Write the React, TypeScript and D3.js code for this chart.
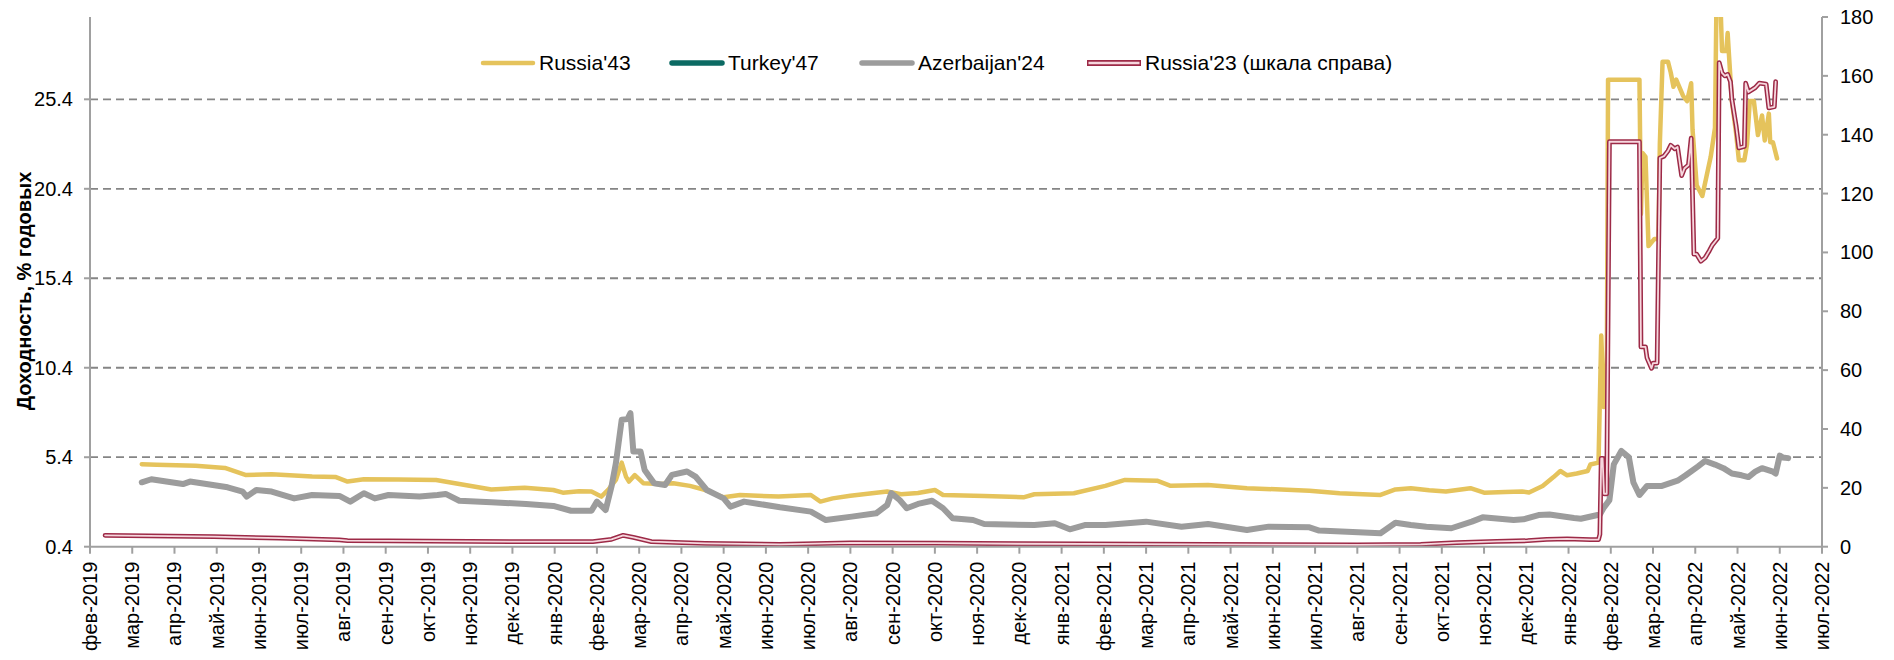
import React from 'react';
import * as d3 from 'd3';

// ---- Data ----
const tickLabels: string[] = [
  'фев-2019','мар-2019','апр-2019','май-2019','июн-2019','июл-2019','авг-2019','сен-2019','окт-2019','ноя-2019','дек-2019',
  'янв-2020','фев-2020','мар-2020','апр-2020','май-2020','июн-2020','июл-2020','авг-2020','сен-2020','окт-2020','ноя-2020','дек-2020',
  'янв-2021','фев-2021','мар-2021','апр-2021','май-2021','июн-2021','июл-2021','авг-2021','сен-2021','окт-2021','ноя-2021','дек-2021',
  'янв-2022','фев-2022','мар-2022','апр-2022','май-2022','июн-2022','июл-2022'
];

const leftTicks: number[] = [0.4, 5.4, 10.4, 15.4, 20.4, 25.4];
const rightTicks: number[] = [0, 20, 40, 60, 80, 100, 120, 140, 160, 180];

const seriesNames: string[] = ["Russia'43", "Turkey'47", "Azerbaijan'24", "Russia'23 (шкала справа)"];

type Pt = [string, number];

const russia43: Pt[] = [
  ['2019-03-08', 5.01], ['2019-03-19', 4.98], ['2019-04-16', 4.92], ['2019-05-07', 4.8], ['2019-05-22', 4.41],
  ['2019-06-10', 4.45], ['2019-07-09', 4.32], ['2019-07-26', 4.3], ['2019-08-04', 4.04], ['2019-08-16', 4.17],
  ['2019-09-10', 4.15], ['2019-10-07', 4.13], ['2019-10-24', 3.9], ['2019-11-16', 3.6], ['2019-12-10', 3.7],
  ['2019-12-31', 3.57], ['2020-01-07', 3.42], ['2020-01-19', 3.5], ['2020-01-28', 3.48], ['2020-02-04', 3.2],
  ['2020-02-09', 3.6], ['2020-02-14', 4.13], ['2020-02-18', 5.1], ['2020-02-21', 4.3], ['2020-02-23', 4.04],
  ['2020-02-27', 4.4], ['2020-03-04', 3.95], ['2020-03-16', 3.9], ['2020-03-26', 3.95], ['2020-04-07', 3.8],
  ['2020-04-18', 3.57], ['2020-05-01', 3.16], ['2020-05-13', 3.29], ['2020-05-26', 3.25], ['2020-06-10', 3.2],
  ['2020-07-03', 3.29], ['2020-07-10', 2.92], ['2020-07-19', 3.1], ['2020-08-01', 3.25], ['2020-08-28', 3.48],
  ['2020-09-07', 3.33], ['2020-09-19', 3.4], ['2020-10-01', 3.57], ['2020-10-07', 3.29], ['2020-11-06', 3.24],
  ['2020-12-04', 3.16], ['2020-12-12', 3.33], ['2021-01-10', 3.39], ['2021-02-02', 3.8], ['2021-02-15', 4.13],
  ['2021-03-09', 4.09], ['2021-03-19', 3.8], ['2021-04-15', 3.85], ['2021-05-13', 3.67], ['2021-06-27', 3.53],
  ['2021-07-19', 3.39], ['2021-08-18', 3.29], ['2021-08-29', 3.6], ['2021-09-09', 3.67], ['2021-09-22', 3.55],
  ['2021-10-04', 3.48], ['2021-10-22', 3.67], ['2021-11-01', 3.42], ['2021-11-16', 3.45], ['2021-11-28', 3.48],
  ['2021-12-03', 3.43], ['2021-12-13', 3.79], ['2021-12-21', 4.29], ['2021-12-26', 4.63], ['2021-12-31', 4.39],
  ['2022-01-07', 4.49], ['2022-01-15', 4.63], ['2022-01-17', 4.99], ['2022-01-23', 5.1], ['2022-01-25', 12.2],
  ['2022-01-27', 8.2], ['2022-01-29', 8.38], ['2022-01-30', 26.5], ['2022-02-20', 26.5], ['2022-02-21', 19.0],
  ['2022-02-22', 22.4], ['2022-02-24', 22.2], ['2022-02-26', 17.2], ['2022-03-02', 17.6], ['2022-03-05', 17.6],
  ['2022-03-06', 22.9], ['2022-03-08', 27.5], ['2022-03-12', 27.5], ['2022-03-14', 26.9], ['2022-03-16', 26.1],
  ['2022-03-18', 26.5], ['2022-03-23', 25.6], ['2022-03-26', 25.3], ['2022-03-29', 26.3], ['2022-03-30', 23.7],
  ['2022-04-02', 20.6], ['2022-04-06', 20.0], ['2022-04-09', 21.1], ['2022-04-12', 22.2], ['2022-04-15', 23.8],
  ['2022-04-16', 30.5], ['2022-04-19', 30.5], ['2022-04-20', 28.1], ['2022-04-23', 28.1], ['2022-04-24', 29.1],
  ['2022-04-25', 27.8], ['2022-04-27', 25.3], ['2022-04-30', 23.5], ['2022-05-02', 22.0], ['2022-05-06', 22.0],
  ['2022-05-08', 22.9], ['2022-05-10', 25.3], ['2022-05-13', 25.3], ['2022-05-16', 23.4], ['2022-05-19', 24.5],
  ['2022-05-21', 23.1], ['2022-05-24', 24.6], ['2022-05-25', 23.0], ['2022-05-27', 23.0], ['2022-05-30', 22.1]
];

const turkey47: Pt[] = [];

const azerbaijan24: Pt[] = [
  ['2019-03-08', 4.0], ['2019-03-15', 4.17], ['2019-04-07', 3.9], ['2019-04-12', 4.04], ['2019-05-09', 3.72],
  ['2019-05-20', 3.48], ['2019-05-23', 3.2], ['2019-05-30', 3.57], ['2019-06-10', 3.48], ['2019-06-26', 3.1],
  ['2019-07-09', 3.29], ['2019-07-29', 3.24], ['2019-08-06', 2.92], ['2019-08-16', 3.39], ['2019-08-24', 3.1],
  ['2019-09-03', 3.29], ['2019-09-25', 3.2], ['2019-10-08', 3.29], ['2019-10-14', 3.35], ['2019-10-24', 2.97],
  ['2019-11-16', 2.88], ['2019-12-11', 2.79], ['2019-12-31', 2.68], ['2020-01-13', 2.41], ['2020-01-28', 2.41],
  ['2020-02-01', 2.92], ['2020-02-07', 2.45], ['2020-02-11', 3.76], ['2020-02-14', 5.06], ['2020-02-18', 7.49],
  ['2020-02-22', 7.53], ['2020-02-24', 7.86], ['2020-02-26', 5.72], ['2020-03-02', 5.72], ['2020-03-05', 4.69],
  ['2020-03-12', 3.94], ['2020-03-20', 3.85], ['2020-03-25', 4.41], ['2020-04-05', 4.6], ['2020-04-11', 4.32],
  ['2020-04-19', 3.57], ['2020-05-01', 3.1], ['2020-05-06', 2.64], ['2020-05-16', 2.92], ['2020-05-27', 2.79],
  ['2020-06-11', 2.6], ['2020-07-03', 2.36], ['2020-07-14', 1.89], ['2020-08-02', 2.08], ['2020-08-20', 2.27],
  ['2020-08-28', 2.73], ['2020-08-31', 3.39], ['2020-09-06', 3.01], ['2020-09-11', 2.55], ['2020-09-19', 2.79],
  ['2020-09-29', 2.97], ['2020-10-07', 2.55], ['2020-10-14', 1.99], ['2020-10-29', 1.89], ['2020-11-06', 1.67],
  ['2020-12-12', 1.61], ['2020-12-27', 1.71], ['2021-01-07', 1.37], ['2021-01-18', 1.61], ['2021-02-02', 1.61],
  ['2021-03-01', 1.8], ['2021-03-27', 1.52], ['2021-04-15', 1.67], ['2021-05-13', 1.33], ['2021-05-29', 1.52],
  ['2021-06-27', 1.48], ['2021-07-04', 1.3], ['2021-08-18', 1.15], ['2021-08-29', 1.74], ['2021-09-09', 1.61],
  ['2021-09-20', 1.52], ['2021-10-08', 1.43], ['2021-10-23', 1.8], ['2021-10-31', 2.04], ['2021-11-22', 1.89],
  ['2021-11-29', 1.93], ['2021-12-10', 2.17], ['2021-12-18', 2.2], ['2022-01-05', 2.0], ['2022-01-10', 1.96],
  ['2022-01-24', 2.2], ['2022-01-27', 2.6], ['2022-01-31', 3.0], ['2022-02-03', 5.0], ['2022-02-08', 5.75],
  ['2022-02-13', 5.39], ['2022-02-16', 3.99], ['2022-02-20', 3.29], ['2022-02-25', 3.79], ['2022-03-07', 3.79],
  ['2022-03-19', 4.09], ['2022-03-25', 4.39], ['2022-04-03', 4.89], ['2022-04-08', 5.19], ['2022-04-15', 4.99],
  ['2022-04-21', 4.79], ['2022-04-27', 4.49], ['2022-05-04', 4.39], ['2022-05-09', 4.29], ['2022-05-14', 4.59],
  ['2022-05-19', 4.79], ['2022-05-27', 4.59], ['2022-05-29', 4.49], ['2022-06-01', 5.49], ['2022-06-03', 5.39],
  ['2022-06-07', 5.35]
];

const russia23: Pt[] = [
  ['2019-02-11', 3.86], ['2019-04-29', 3.4], ['2019-06-16', 2.9], ['2019-07-29', 2.3], ['2019-08-04', 2.04],
  ['2019-12-11', 1.7], ['2020-01-29', 1.7], ['2020-02-11', 2.5], ['2020-02-19', 3.86], ['2020-02-26', 3.18],
  ['2020-03-10', 1.7], ['2020-04-18', 1.13], ['2020-06-11', 0.8], ['2020-08-01', 1.3], ['2020-10-01', 1.2],
  ['2020-12-01', 1.0], ['2021-03-01', 0.9], ['2021-08-01', 0.6], ['2021-09-16', 0.8], ['2021-10-12', 1.36],
  ['2021-11-10', 1.8], ['2021-12-02', 2.04], ['2021-12-16', 2.5], ['2021-12-31', 2.67], ['2022-01-17', 2.42],
  ['2022-01-23', 2.42], ['2022-01-24', 4.2], ['2022-01-25', 30.0], ['2022-01-26', 30.0], ['2022-01-27', 18.0],
  ['2022-01-29', 18.0], ['2022-01-31', 137.6], ['2022-02-20', 137.6], ['2022-02-21', 67.9], ['2022-02-24', 67.9],
  ['2022-02-25', 64.2], ['2022-02-28', 60.6], ['2022-03-01', 62.4], ['2022-03-04', 62.4], ['2022-03-06', 132.1],
  ['2022-03-09', 132.7], ['2022-03-12', 134.5], ['2022-03-14', 136.4], ['2022-03-17', 135.2], ['2022-03-19', 135.8],
  ['2022-03-22', 126.1], ['2022-03-24', 128.5], ['2022-03-27', 129.7], ['2022-03-29', 138.8], ['2022-03-31', 99.4],
  ['2022-04-02', 99.4], ['2022-04-05', 97.0], ['2022-04-08', 98.2], ['2022-04-11', 100.6], ['2022-04-13', 102.4],
  ['2022-04-17', 104.8], ['2022-04-18', 164.5], ['2022-04-20', 161.0], ['2022-04-22', 160.0], ['2022-04-24', 160.5],
  ['2022-04-26', 158.0], ['2022-04-27', 152.0], ['2022-04-30', 143.0], ['2022-05-02', 135.5], ['2022-05-06', 136.0],
  ['2022-05-07', 157.5], ['2022-05-09', 154.5], ['2022-05-14', 156.0], ['2022-05-17', 157.5], ['2022-05-22', 157.2],
  ['2022-05-24', 149.1], ['2022-05-28', 149.5], ['2022-05-29', 158.0]
];

// ---- Styles ----
const COLORS = {
  russia43: '#e5c35c',
  turkey47: '#0b6a63',
  azerbaijan24: '#9c9c9c',
  russia23: '#9d2a47',
  russia23Inner: '#f6d7de',
  axis: '#a0a0a0',
  grid: '#858585',
  text: '#000000',
};
const FONT = "'Liberation Sans', Arial, sans-serif";

const W = 1894;
const H = 660;
const L = 90;
const R = 1822;
const T = 17;
const B = 546.7;

export default function App() {
  const xBand = d3.scalePoint<string>().domain(tickLabels).range([L, R]);
  const step = xBand.step();
  const xOf = (s: string): number => {
    const [y, m, d] = s.split('-').map(Number);
    const idx = (y - 2019) * 12 + (m - 1) - 1;
    const dim = new Date(y, m, 0).getDate();
    return (xBand(tickLabels[idx]) as number) + ((d - 1) / dim) * step;
  };
  const yL = d3.scaleLinear().domain([0.4, 30.0]).range([B, T]);
  const yR = d3.scaleLinear().domain([0, 180]).range([B, T]);

  const lineL = d3.line<Pt>().x((p) => xOf(p[0])).y((p) => yL(p[1]));
  const lineR = d3.line<Pt>().x((p) => xOf(p[0])).y((p) => yR(p[1]));

  const legendItems = [
    { name: seriesNames[0], color: COLORS.russia43, x: 481, w: 4.5, double: false },
    { name: seriesNames[1], color: COLORS.turkey47, x: 670, w: 5.5, double: false },
    { name: seriesNames[2], color: COLORS.azerbaijan24, x: 860, w: 5.5, double: false },
    { name: seriesNames[3], color: COLORS.russia23, x: 1087, w: 5, double: true },
  ];
  const LEG_Y = 63;

  return (
    <svg
      width={W}
      height={H}
      style={{ position: 'absolute', left: 0, top: 0, display: 'block', background: '#fff' }}
      fontFamily={FONT}
    >
      <defs>
        <clipPath id="plot">
          <rect x={L} y={T} width={R - L} height={B - T} />
        </clipPath>
      </defs>

      {/* grid */}
      {leftTicks.filter((v) => v > 0.4).map((v) => (
        <line key={'g' + v} x1={L} x2={R} y1={yL(v)} y2={yL(v)} stroke={COLORS.grid} strokeWidth={1.8} strokeDasharray="8,5" />
      ))}

      {/* series */}
      <g clipPath="url(#plot)">
        <path d={lineL(russia43) || ''} fill="none" stroke={COLORS.russia43} strokeWidth={4.5} strokeLinejoin="round" strokeLinecap="round" />
        {turkey47.length > 0 && (
          <path d={lineL(turkey47) || ''} fill="none" stroke={COLORS.turkey47} strokeWidth={5} strokeLinejoin="round" />
        )}
        <path d={lineL(azerbaijan24) || ''} fill="none" stroke={COLORS.azerbaijan24} strokeWidth={6} strokeLinejoin="round" strokeLinecap="round" />
        <path d={lineR(russia23) || ''} fill="none" stroke={COLORS.russia23} strokeWidth={4.8} strokeLinejoin="round" strokeLinecap="round" />
        <path d={lineR(russia23) || ''} fill="none" stroke={COLORS.russia23Inner} strokeWidth={1.8} strokeLinejoin="round" strokeLinecap="round" />
      </g>

      {/* left axis */}
      <line x1={L} x2={L} y1={T} y2={B} stroke={COLORS.axis} strokeWidth={2} />
      {leftTicks.map((v) => (
        <g key={'l' + v}>
          <line x1={L - 6} x2={L} y1={yL(v)} y2={yL(v)} stroke={COLORS.axis} strokeWidth={2} />
          <text x={73} y={yL(v)} dy="0.35em" textAnchor="end" fontSize={20} fill={COLORS.text}>
            {v.toFixed(1)}
          </text>
        </g>
      ))}

      {/* right axis */}
      <line x1={R} x2={R} y1={T} y2={B} stroke={COLORS.axis} strokeWidth={2} />
      {rightTicks.map((v) => (
        <g key={'r' + v}>
          <line x1={R} x2={R + 6} y1={yR(v)} y2={yR(v)} stroke={COLORS.axis} strokeWidth={2} />
          <text x={1840} y={yR(v)} dy="0.35em" textAnchor="start" fontSize={20} fill={COLORS.text}>
            {v}
          </text>
        </g>
      ))}

      {/* bottom axis */}
      <line x1={L} x2={R} y1={B} y2={B} stroke={COLORS.axis} strokeWidth={2} />
      {tickLabels.map((lab) => {
        const x = xBand(lab) as number;
        return (
          <g key={lab}>
            <line x1={x} x2={x} y1={B} y2={B + 7} stroke={COLORS.axis} strokeWidth={2} />
            <text
              transform={`translate(${x},${B + 15}) rotate(-90)`}
              dy="0.35em"
              textAnchor="end"
              fontSize={20}
              fill={COLORS.text}
            >
              {lab}
            </text>
          </g>
        );
      })}

      {/* y title */}
      <text
        transform="translate(24,291) rotate(-90)"
        dy="0.35em"
        textAnchor="middle"
        fontSize={20}
        fontWeight="bold"
        fill={COLORS.text}
      >
        Доходность, % годовых
      </text>

      {/* legend */}
      {legendItems.map((it) => (
        <g key={it.name}>
          {it.double ? (
            <>
              <line x1={it.x} x2={it.x + 54} y1={LEG_Y} y2={LEG_Y} stroke={it.color} strokeWidth={6} />
              <line x1={it.x + 1.5} x2={it.x + 52.5} y1={LEG_Y} y2={LEG_Y} stroke={COLORS.russia23Inner} strokeWidth={2.5} />
            </>
          ) : (
            <line x1={it.x + 2} x2={it.x + 52} y1={LEG_Y} y2={LEG_Y} stroke={it.color} strokeWidth={it.w} strokeLinecap="round" />
          )}
          <text x={it.x + 58} y={LEG_Y} dy="0.35em" fontSize={21} fill={COLORS.text}>
            {it.name}
          </text>
        </g>
      ))}
    </svg>
  );
}
